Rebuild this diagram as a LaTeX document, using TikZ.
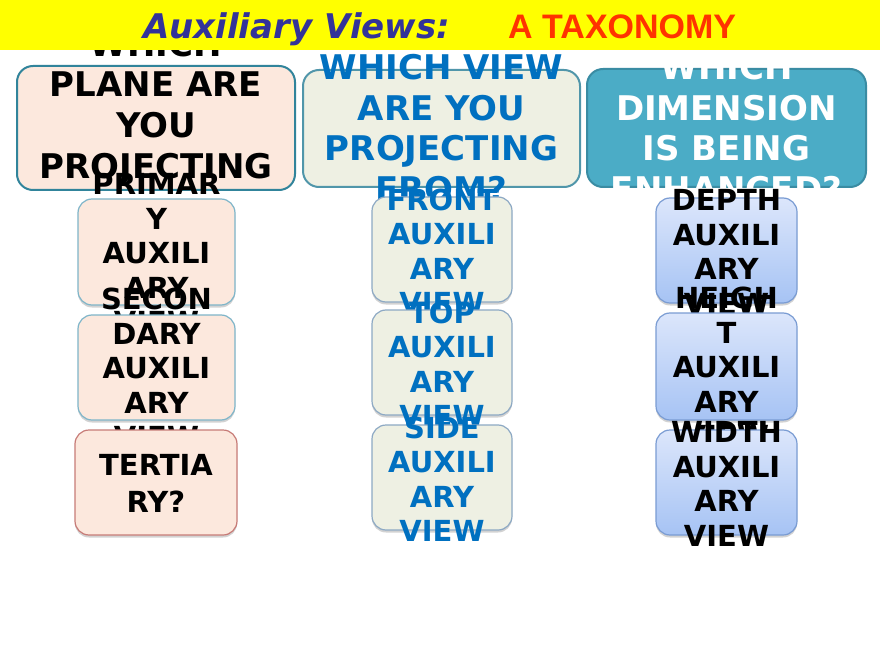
\documentclass[tikz,border=0pt]{standalone}
\usepackage{fontspec}
\setmainfont{DejaVu Sans}
\newfontfamily\arialfont{Liberation Sans}
\usepackage{tikz}
\usetikzlibrary{shapes}
\usetikzlibrary{positioning}
\usetikzlibrary{shadows}
\definecolor{bannerbg}{HTML}{FFFF00}
\definecolor{titlenavy}{HTML}{333399}
\definecolor{titlered}{HTML}{FF3300}
\definecolor{peach}{HTML}{FCE8DD}
\definecolor{sage}{HTML}{EEF0E3}
\definecolor{teal}{HTML}{4BACC6}
\definecolor{tealline}{HTML}{31849B}
\definecolor{darkteal}{HTML}{3A8CA3}
\definecolor{paleline}{HTML}{7EB5C9}
\definecolor{redline}{HTML}{C77B77}
\definecolor{grayline}{HTML}{8DA9C4}
\definecolor{bluetop}{HTML}{DCE6FB}
\definecolor{bluebot}{HTML}{A6C3F4}
\definecolor{blueline}{HTML}{7A9CD3}
\definecolor{viewblue}{HTML}{0070C0}
\tikzstyle{bigbox}=[
        rectangle,
        draw,
        line width=2pt,
        rounded corners=16pt,
        inner sep=0pt
]
\tikzstyle{smallbox}=[
        rectangle,
        draw,
        line width=1.2pt,
        rounded corners=14pt,
        inner sep=0pt,
        drop shadow={shadow xshift=0pt,shadow yshift=-2.5pt,opacity=.35}
]
\tikzstyle{bigtext}=[align=center,inner sep=0pt,font=\bfseries\fontsize{34}{40.7}\selectfont]
\tikzstyle{smalltext}=[align=center,inner sep=0pt,font=\bfseries\fontsize{29}{34.5}\selectfont]
\tikzstyle{bluebox}=[smallbox,draw=blueline,top color=bluetop,bottom color=bluebot]

\begin{document}
\begin{tikzpicture}[x=1pt,y=-1pt]
\fill[white] (0,0) rectangle (880,660);
\useasboundingbox (0,0) rectangle (880,660);
\node[bigbox,draw=tealline,fill=peach,minimum width=278pt,minimum height=124pt] (plane) at (156,128) {};
\node[bigtext] (planetext) at (156,108) {WHICH\\PLANE ARE\\YOU\\PROJECTING};
\node[bigbox,draw=tealline!85,fill=sage,minimum width=277pt,minimum height=117pt] (view) at (441.5,128.5) {};
\node[bigtext,text=viewblue] (viewtext) at (441.5,128) {WHICH VIEW\\ARE YOU\\PROJECTING\\FROM?};
\node[bigbox,draw=darkteal,fill=teal,minimum width=279pt,minimum height=118pt] (dim) at (726.5,128) {};
\node[bigtext,text=white] (dimtext) at (726.5,128) {WHICH\\DIMENSION\\IS BEING\\ENHANCED?};
%plane column
\node[smallbox,draw=paleline,fill=peach,minimum width=157pt,minimum height=106pt] (primary) at (156.5,252) {};
\node[smalltext] (primarytext) at (156.5,253) {PRIMAR\\Y\\AUXILI\\ARY\\VIEW};
\node[smallbox,draw=paleline,fill=peach,minimum width=157pt,minimum height=105pt] (secondary) at (156.5,367.5) {};
\node[smalltext] (secondarytext) at (156.5,368) {SECON\\DARY\\AUXILI\\ARY\\VIEW};
\node[smallbox,draw=redline,fill=peach,minimum width=162pt,minimum height=105pt] (tertiary) at (156,482.5) {};
\node[smalltext,font=\bfseries\fontsize{29}{37}\selectfont] (tertiarytext) at (156,483.5) {TERTIA\\RY?};
%view column
\node[smallbox,draw=grayline,fill=sage,minimum width=140pt,minimum height=105pt] (front) at (442,249.5) {};
\node[smalltext,text=viewblue] (fronttext) at (442,251) {FRONT\\AUXILI\\ARY\\VIEW};
\node[smallbox,draw=grayline,fill=sage,minimum width=140pt,minimum height=105pt] (top) at (442,362.5) {};
\node[smalltext,text=viewblue] (toptext) at (442,364) {TOP\\AUXILI\\ARY\\VIEW};
\node[smallbox,draw=grayline,fill=sage,minimum width=140pt,minimum height=105pt] (side) at (442,477.5) {};
\node[smalltext,text=viewblue] (sidetext) at (442,479) {SIDE\\AUXILI\\ARY\\VIEW};
%dimension column
\node[bluebox,minimum width=141pt,minimum height=105pt] (depth) at (726.5,250.5) {};
\node[smalltext] (depthtext) at (726.5,252) {DEPTH\\AUXILI\\ARY\\VIEW};
\node[bluebox,minimum width=141pt,minimum height=107pt] (height) at (726.5,366.5) {};
\node[smalltext] (heighttext) at (726.5,367) {HEIGH\\T\\AUXILI\\ARY\\VIEW};
\node[bluebox,minimum width=141pt,minimum height=105pt] (width) at (726.5,482.5) {};
\node[smalltext] (widthtext) at (726.5,484) {WIDTH\\AUXILI\\ARY\\VIEW};
%title
\node[fill=bannerbg,minimum width=880pt,minimum height=50pt,inner sep=0pt] (banner) at (440,25) {};
\node[anchor=base west,inner sep=0pt,text=titlenavy,font=\bfseries\itshape\fontsize{34}{40}\selectfont] (titleleft) at (143,39) {Auxiliary Views:};
\node[anchor=base west,inner sep=0pt,text=titlered,font=\arialfont\bfseries\fontsize{34}{40}\selectfont] (titleright) at (508,39) {A TAXONOMY};
\end{tikzpicture}
\end{document}
